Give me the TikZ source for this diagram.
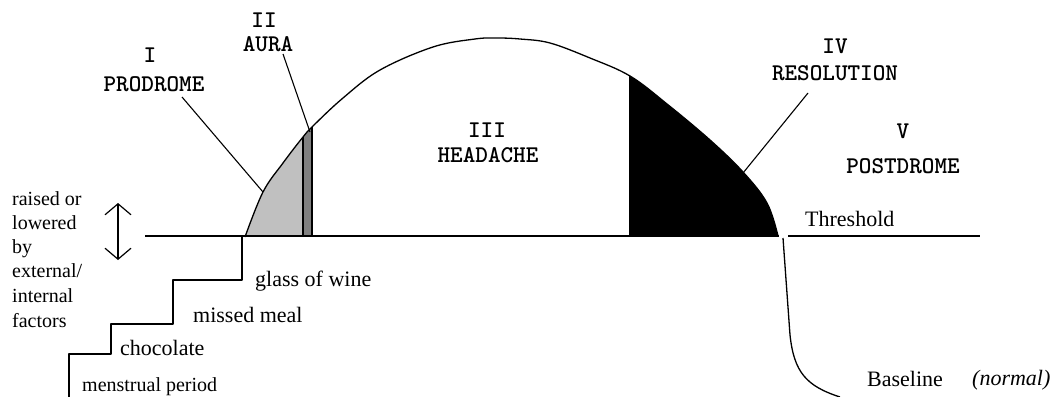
\documentclass[tikz,border=0pt]{standalone}
\usepackage{fontspec}
\setmainfont{Liberation Serif}
\usetikzlibrary{arrows.meta}
\definecolor{lightfill}{RGB}{192,192,192}
\definecolor{darkfill}{RGB}{128,128,128}
\tikzset{
  phase/.style={font=\ttfamily\bfseries\fontsize{24}{27}\selectfont, inner sep=0pt, anchor=base},
  note/.style={font=\fontsize{22}{24}\selectfont, inner sep=0pt, anchor=base west},
  side/.style={font=\fontsize{20}{22}\selectfont, inner sep=0pt, anchor=base west},
  lead/.style={line width=1.1pt},
  ink/.style={line width=1.3pt, line join=round},
  barb/.style={line width=1.2pt, {Straight Barb[length=11pt,width=26pt]}-{Straight Barb[length=11pt,width=26pt]}}
}
\def\curvepts{(245,237) (263,192) (283,163) (303,137) (313,126) (343,98) (380,70) (433,47) (475,39) (497,38) (520,39) (550,43) (590,58) (630,76) (667,104) (710,140) (743,172) (767,203) (778,236)}
\begin{document}
\begin{tikzpicture}[x=1pt,y=-1pt]
\useasboundingbox (0,0) rectangle (1054,396);

% fills under the curve
\begin{scope}
  \clip (245,0) rectangle (303,236);
  \fill[lightfill] plot[smooth,tension=0.6] coordinates {\curvepts} -- cycle;
\end{scope}
\begin{scope}
  \clip (303,0) rectangle (312,236);
  \fill[darkfill] plot[smooth,tension=0.6] coordinates {\curvepts} -- cycle;
\end{scope}
\begin{scope}
  \clip (630,0) rectangle (780,236);
  \fill[black] plot[smooth,tension=0.6] coordinates {\curvepts} -- cycle;
\end{scope}

% curve
\draw[ink] plot[smooth,tension=0.6] coordinates {\curvepts};

% bar edges
\coordinate (barLb) at (303,236);
\coordinate (barLt) at (303,137);
\coordinate (barRb) at (312,236);
\coordinate (barRt) at (312,127);
\coordinate (blkb) at (630,236);
\coordinate (blkt) at (630,76);
\draw[ink] (barLb) -- (barLt);
\draw[ink] (barRb) -- (barRt);
\draw[ink] (blkb) -- (blkt);

% threshold line
\coordinate (thA) at (145,236);
\coordinate (thB) at (779,236);
\coordinate (thC) at (788,236);
\coordinate (thD) at (980,236);
\draw[ink] (thA) -- (thB);
\draw[ink] (thC) -- (thD);

% staircase
\coordinate (s0) at (242,237);
\coordinate (s1) at (242,280);
\coordinate (s2) at (173,280);
\coordinate (s3) at (173,324);
\coordinate (s4) at (111,324);
\coordinate (s5) at (111,354);
\coordinate (s6) at (69,354);
\coordinate (s7) at (69,397);
\draw[ink] (s0) -- (s1) -- (s2) -- (s3) -- (s4) -- (s5) -- (s6) -- (s7);

% drop to baseline
\coordinate (d0) at (783,238);
\coordinate (d1) at (790,335);
\coordinate (d2) at (840,397);
\draw[ink] (d0) -- (d1) .. controls (794,372) and (806,386) .. (d2);

% double arrow
\coordinate (arT) at (118,203);
\coordinate (arB) at (118,260);
\draw[barb] (arT) -- (arB);

% phase labels
\node[phase] (pI) at (150,63) {I};
\node[phase] (pIt) at (154,92) {PRODROME};
\node[phase] (pII) at (264,28) {II};
\node[phase] (pIIt) at (268,52) {AURA};
\node[phase] (pIII) at (487,137) {III};
\node[phase] (pIIIt) at (488,162) {HEADACHE};
\node[phase] (pIV) at (835,53) {IV};
\node[phase] (pIVt) at (835,81) {RESOLUTION};
\node[phase] (pV) at (903,138) {V};
\node[phase] (pVt) at (903,173) {POSTDROME};

% leader lines
\coordinate (lp1) at (182,97);
\coordinate (lp2) at (263,192);
\coordinate (la1) at (283,54);
\coordinate (la2) at (310,132);
\coordinate (lr1) at (808,93);
\coordinate (lr2) at (743,173);
\draw[lead] (lp1) -- (lp2);
\draw[lead] (la1) -- (la2);
\draw[lead] (lr1) -- (lr2);

% step labels
\node[note] (n1) at (255,286) {glass of wine};
\node[note] (n2) at (193,322) {missed meal};
\node[note] (n3) at (120,355) {chocolate};
\node[side] (n4) at (82,391) {menstrual period};

% side text
\node[side] (t1) at (12,205) {raised or};
\node[side] (t2) at (12,229) {lowered};
\node[side] (t3) at (12,253) {by};
\node[side] (t4) at (12,277) {external/};
\node[side] (t5) at (12,302) {internal};
\node[side] (t6) at (12,327) {factors};

% right labels
\node[note] (th) at (805,226) {Threshold};
\node[note] (bl) at (867,386) {Baseline};
\node[note,font=\itshape\fontsize{22}{24}\selectfont] (nm) at (972,385) {(normal)};
\end{tikzpicture}
\end{document}
